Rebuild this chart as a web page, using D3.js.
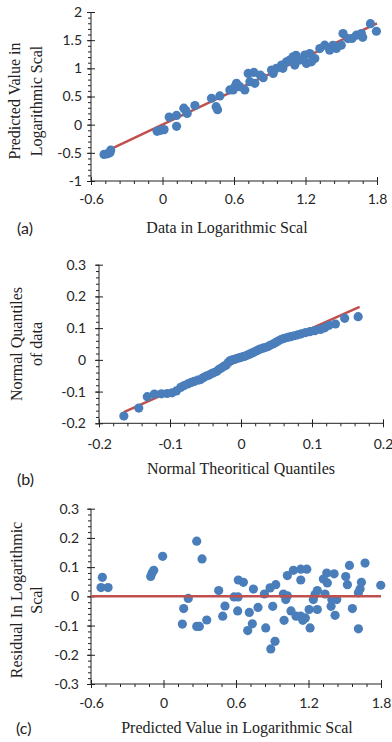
<!DOCTYPE html>
<html>
<head>
<meta charset="utf-8">
<script src="https://cdn.jsdelivr.net/npm/d3@7"></script>
<style>
  html, body { margin: 0; padding: 0; background: #fff; }
  svg { display: block; }
  .tick text { font-family: Lato, "Open Sans", sans-serif; font-size: 14px; fill: #262626; }
  .axis path, .axis line { stroke: #222; }
  .title { font-family: "Liberation Serif", "Times New Roman", serif; font-size: 16px; fill: #222; }
  .tag { font-family: Lato, "Open Sans", sans-serif; font-size: 16px; fill: #222; }
</style>
</head>
<body>
<svg id="chart" width="392" height="742"></svg>
<script>
// (a) data vs predicted, both in log scale
var fitData = [-0.491, -0.463, -0.441, -0.435, -0.045, -0.015, 0.013, 0.118, 0.056, 0.118,
  0.179, 0.195, 0.207, 0.272, 0.411, 0.450, 0.462, 0.481, 0.565, 0.593,
  0.607, 0.621, 0.649, 0.691, 0.733, 0.719, 0.767, 0.775, 0.820, 0.845,
  0.915, 0.929, 0.957, 0.999, 1.010, 1.041, 1.068, 1.096, 1.110, 1.120,
  1.152, 1.194, 1.208, 1.236, 1.250, 1.278, 1.320, 1.361, 1.403, 1.430,
  1.459, 1.500, 1.515, 1.556, 1.590, 1.627, 1.669, 1.680, 1.745, 1.795];
var fitPred = [-0.529, -0.518, -0.500, -0.453, -0.118, -0.100, -0.088, -0.030, 0.134, 0.164,
  0.293, 0.250, 0.199, 0.340, 0.469, 0.320, 0.265, 0.511, 0.617, 0.617,
  0.675, 0.734, 0.675, 0.617, 0.764, 0.910, 0.928, 0.734, 0.880, 0.834,
  0.970, 0.910, 1.000, 1.058, 1.000, 1.116, 1.146, 1.205, 1.058, 1.230,
  1.146, 1.235, 1.087, 1.263, 1.116, 1.175, 1.350, 1.411, 1.323, 1.410,
  1.352, 1.411, 1.617, 1.529, 1.530, 1.588, 1.617, 1.550, 1.792, 1.658];
var fitLineX = [-0.44, 1.8];
var fitLineY = [-0.44, 1.8];

// (b) normal Q-Q plot
var qqTheo = [-0.165, -0.144, -0.132, -0.122, -0.112, -0.104, -0.097, -0.091, -0.085, -0.080,
  -0.075, -0.070, -0.066, -0.061, -0.057, -0.053, -0.049, -0.045, -0.041, -0.038,
  -0.034, -0.031, -0.027, -0.024, -0.021, -0.018, -0.015, -0.012, -0.009, -0.006,
  -0.003, 0.000, 0.003, 0.006, 0.009, 0.012, 0.015, 0.018, 0.021, 0.024,
  0.027, 0.031, 0.034, 0.038, 0.041, 0.045, 0.049, 0.053, 0.057, 0.061,
  0.066, 0.070, 0.075, 0.080, 0.085, 0.091, 0.097, 0.104, 0.112, 0.118,
  0.124, 0.133, 0.146, 0.165];
var qqSample = [-0.177, -0.152, -0.116, -0.108, -0.107, -0.106, -0.104, -0.098, -0.087, -0.081,
  -0.076, -0.071, -0.068, -0.064, -0.062, -0.056, -0.051, -0.048, -0.043, -0.040,
  -0.036, -0.030, -0.025, -0.020, -0.017, -0.008, -0.002, 0.000, 0.002, 0.004,
  0.006, 0.008, 0.010, 0.012, 0.015, 0.018, 0.021, 0.024, 0.028, 0.031,
  0.034, 0.037, 0.039, 0.042, 0.046, 0.050, 0.055, 0.060, 0.065, 0.068,
  0.071, 0.073, 0.076, 0.079, 0.082, 0.086, 0.089, 0.092, 0.096, 0.101,
  0.109, 0.113, 0.131, 0.136];
var qqLineX = [-0.165, 0.167];
var qqLineY = [-0.165, 0.167];

// (c) residuals vs predicted
var resPred = [-0.506, -0.517, -0.459, -0.106, -0.095, -0.081, -0.007, 0.275, 0.319, 0.205,
  0.167, 0.156, 0.275, 0.297, 0.358, 0.457, 0.509, 0.490, 0.584, 0.617,
  0.619, 0.614, 0.661, 0.744, 0.835, 0.882, 0.929, 0.904, 0.782, 0.710,
  0.735, 0.697, 0.846, 0.923, 0.888, 0.998, 0.992, 1.025, 1.012, 1.025,
  1.075, 1.136, 1.186, 1.136, 1.055, 1.097, 1.136, 1.153, 1.174, 1.213,
  1.205, 1.273, 1.240, 1.254, 1.273, 1.337, 1.323, 1.351, 1.356, 1.412,
  1.393, 1.434, 1.387, 1.420, 1.508, 1.522, 1.539, 1.563, 1.613, 1.613,
  1.627, 1.638, 1.668, 1.798];
var resValue = [0.065, 0.030, 0.030, 0.068, 0.080, 0.089, 0.137, 0.189, 0.128, -0.007,
  -0.042, -0.095, -0.103, -0.103, -0.081, 0.020, -0.033, -0.068, -0.002, -0.002,
  0.056, -0.050, 0.048, 0.025, 0.008, 0.029, 0.040, -0.034, -0.038, -0.055,
  -0.094, -0.117, -0.108, -0.154, -0.180, -0.082, 0.008, 0.002, -0.011, 0.071,
  0.089, 0.093, 0.093, 0.056, -0.050, -0.068, -0.068, -0.082, -0.074, -0.108,
  -0.045, -0.045, -0.011, 0.006, 0.020, 0.008, 0.059, 0.080, 0.046, 0.077,
  -0.011, -0.011, -0.034, -0.065, 0.068, 0.040, 0.106, -0.042, -0.111, 0.012,
  0.025, 0.048, 0.114, 0.038];
var resLineX = [-0.6, 1.8];
var resLineY = [0, 0];

// tick labels
var logTicks = [-0.6, 0, 0.6, 1.2, 1.8];
var logMinor = [-0.48, -0.36, -0.24, -0.12, 0.12, 0.24, 0.36, 0.48, 0.72, 0.84, 0.96, 1.08, 1.32, 1.44, 1.56, 1.68];
var predTicks = [-1, -0.5, 0, 0.5, 1, 1.5, 2];
var qqXTicks = [-0.2, -0.1, 0, 0.1, 0.2];
var qqYTicks = [-0.2, -0.1, 0, 0.1, 0.2, 0.3];
var resTicks = [-0.3, -0.2, -0.1, 0, 0.1, 0.2, 0.3];

var blue = "#4a7ebb", red = "#c0504d";
var svg = d3.select("#chart");

function minorSteps(dom, step) {
  var out = [];
  var n = Math.round((dom[1] - dom[0]) / step);
  for (var i = 0; i <= n; i++) out.push(+(dom[0] + i * step).toFixed(4));
  return out;
}

function drawPanel(p) {
  var x = d3.scaleLinear().domain(p.xDomain).range([p.left, p.right]);
  var y = d3.scaleLinear().domain(p.yDomain).range([p.bottom, p.top]);
  var g = svg.append("g");

  // minor ticks (outside)
  g.append("g").attr("class", "axis")
    .attr("transform", "translate(0," + p.bottom + ")")
    .call(d3.axisBottom(x).tickValues(p.xMinor).tickSize(3).tickFormat(""))
    .select(".domain").remove();
  g.append("g").attr("class", "axis")
    .attr("transform", "translate(" + p.left + ",0)")
    .call(d3.axisLeft(y).tickValues(p.yMinor).tickSize(3).tickFormat(""))
    .select(".domain").remove();

  // major axes, ticks cross the line
  var xa = g.append("g").attr("class", "axis")
    .attr("transform", "translate(0," + p.bottom + ")")
    .call(d3.axisBottom(x).tickValues(p.xTicks).tickSizeOuter(0).tickFormat(function(d) { return String(d); }));
  xa.selectAll(".tick line").attr("y1", -4).attr("y2", 4);
  xa.selectAll(".tick text").attr("y", p.xLabOff).attr("dy", "0.35em");

  var ya = g.append("g").attr("class", "axis")
    .attr("transform", "translate(" + p.left + ",0)")
    .call(d3.axisLeft(y).tickValues(p.yTicks).tickSizeOuter(0).tickFormat(function(d) { return String(d); }));
  ya.selectAll(".tick line").attr("x1", -4).attr("x2", 4);
  ya.selectAll(".tick text").attr("x", -p.yLabOff);
  xa.select(".domain").attr("d", "M" + p.left + ",0H" + p.right);
  ya.select(".domain").attr("d", "M0," + p.top + "V" + p.bottom);

  var pts = p.xs.map(function(v, i) { return [v, p.ys[i]]; });
  var line = d3.line().x(function(d) { return x(d[0]); }).y(function(d) { return y(d[1]); });

  if (p.lineFirst) {
    g.append("path").datum(p.lineX.map(function(v, i) { return [v, p.lineY[i]]; }))
      .attr("d", line).attr("fill", "none").attr("stroke", red).attr("stroke-width", 2.5);
  }
  g.append("g").selectAll("circle").data(pts).join("circle")
    .attr("cx", function(d) { return x(d[0]); })
    .attr("cy", function(d) { return y(d[1]); })
    .attr("r", 4.6)
    .attr("fill", blue);
  if (!p.lineFirst) {
    g.append("path").datum(p.lineX.map(function(v, i) { return [v, p.lineY[i]]; }))
      .attr("d", line).attr("fill", "none").attr("stroke", red).attr("stroke-width", 2.5);
  }

  // titles
  g.append("text").attr("class", "title").attr("text-anchor", "middle")
    .attr("x", p.xTitleX).attr("y", p.xTitleY).text(p.xTitle);
  p.yTitle.forEach(function(t, i) {
    g.append("text").attr("class", "title").attr("text-anchor", "middle")
      .attr("transform", "translate(" + p.yTitleX[i] + "," + p.yTitleY + ") rotate(-90)")
      .text(t);
  });
  g.append("text").attr("class", "tag").attr("x", p.tagX).attr("y", p.tagY).text(p.tag);
}

drawPanel({
  xs: fitData, ys: fitPred, lineX: fitLineX, lineY: fitLineY, lineFirst: true,
  xDomain: [-0.6, 1.8], yDomain: [-1, 2],
  left: 91, right: 377, top: 12, bottom: 181,
  xTicks: logTicks, xMinor: logMinor, yTicks: predTicks, yMinor: minorSteps([-1, 2], 0.1),
  xLabOff: 18, yLabOff: 9,
  xTitle: "Data in Logarithmic Scal", xTitleX: 227, xTitleY: 233,
  yTitle: ["Predicted Value in", "Logarithmic Scal"], yTitleX: [20, 42], yTitleY: 101,
  tag: "(a)", tagX: 17, tagY: 234
});

drawPanel({
  xs: qqTheo, ys: qqSample, lineX: qqLineX, lineY: qqLineY, lineFirst: true,
  xDomain: [-0.2, 0.2], yDomain: [-0.2, 0.3],
  left: 99, right: 383, top: 264.7, bottom: 423.3,
  xTicks: qqXTicks, xMinor: minorSteps([-0.2, 0.2], 0.02), yTicks: qqYTicks, yMinor: minorSteps([-0.2, 0.3], 0.02),
  xLabOff: 21, yLabOff: 13,
  xTitle: "Normal Theoritical Quantiles", xTitleX: 241, xTitleY: 474,
  yTitle: ["Normal Quantiles", "of data"], yTitleX: [22, 42], yTitleY: 344,
  tag: "(b)", tagX: 17, tagY: 485
});

drawPanel({
  xs: resPred, ys: resValue, lineX: resLineX, lineY: resLineY, lineFirst: false,
  xDomain: [-0.6, 1.8], yDomain: [-0.3, 0.3],
  left: 91, right: 381, top: 508.7, bottom: 684,
  xTicks: logTicks, xMinor: logMinor, yTicks: resTicks, yMinor: minorSteps([-0.3, 0.3], 0.02),
  xLabOff: 19, yLabOff: 12,
  xTitle: "Predicted Value in Logarithmic Scal", xTitleX: 237, xTitleY: 733,
  yTitle: ["Residual In Logarithmic", "Scal"], yTitleX: [22, 42], yTitleY: 600,
  tag: "(c)", tagX: 16, tagY: 734
});
</script>
</body>
</html>
